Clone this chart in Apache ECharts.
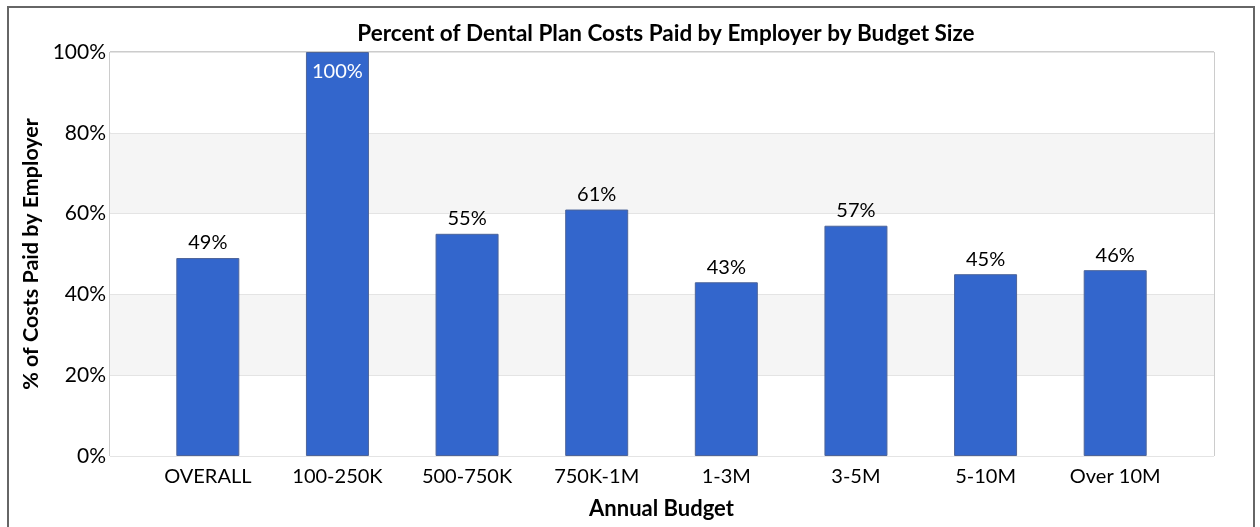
<!DOCTYPE html>
<html>
<head>
<meta charset="utf-8">
<script src="https://cdn.jsdelivr.net/npm/echarts@6/dist/echarts.min.js"></script>
<style>
html,body{margin:0;padding:0;background:#fff;}
#chart{width:1260px;height:527px;}
</style>
</head>
<body>
<div id="chart"></div>
<script>
const categories = ['OVERALL','100-250K','500-750K','750K-1M','1-3M','3-5M','5-10M','Over 10M'];
const values = [49, 100, 55, 61, 43, 57, 45, 46];
const yTicks = [0, 20, 40, 60, 80, 100];

const FONT = 'Lato';
const chart = echarts.init(document.getElementById('chart'));

const barData = values.map(v => {
  const inside = v >= 95;
  return {
    value: v,
    label: inside ? {position: 'insideTop', color: '#fff', distance: 10} : {position: 'top', color: '#000', distance: 5}
  };
});

chart.setOption({
  animation: false,
  backgroundColor: '#fff',
  textStyle: {fontFamily: FONT},
  title: {
    text: 'Percent of Dental Plan Costs Paid by Employer by Budget Size',
    left: 661, top: 17, textAlign: 'center',
    textStyle: {fontFamily: FONT, fontSize: 22.5, fontWeight: 'bold', color: '#000'}
  },
  graphic: [{
    type: 'rect', shape: {x: 8, y: 7, width: 1246, height: 540},
    style: {fill: 'none', stroke: '#666', lineWidth: 2}, z: 100, silent: true
  }],
  grid: [
    {left: 110, right: 46, top: 52, bottom: 71, show: true, borderColor: '#999', borderWidth: 1, backgroundColor: 'transparent'},
    {left: 143, right: 80, top: 52, bottom: 71}
  ],
  xAxis: [
    {gridIndex: 0, type: 'category', data: categories, show: false},
    {
      gridIndex: 1, type: 'category', data: categories,
      axisLine: {show: false}, axisTick: {show: false},
      axisLabel: {fontFamily: FONT, fontSize: 20, color: '#000', margin: 11},
      name: 'Annual Budget', nameLocation: 'middle', nameGap: 42,
      nameTextStyle: {fontFamily: FONT, fontSize: 22, fontWeight: 'bold', color: '#000'}
    }
  ],
  yAxis: [
    {
      gridIndex: 0, type: 'value', min: yTicks[0], max: yTicks[yTicks.length - 1], interval: 20,
      axisLine: {show: false}, axisTick: {show: false},
      axisLabel: {fontFamily: FONT, fontSize: 21, color: '#000', margin: 4, formatter: v => v + '%'},
      splitLine: {show: true, lineStyle: {color: '#e4e4e4', width: 1}},
      splitArea: {show: true, areaStyle: {color: ['#ffffff', '#f5f5f5']}},
      name: '% of Costs Paid by Employer', nameLocation: 'middle', nameGap: 63, nameRotate: 90,
      nameTextStyle: {fontFamily: FONT, fontSize: 21.5, fontWeight: 'bold', color: '#000'}
    },
    {gridIndex: 1, type: 'value', min: 0, max: 100, interval: 20, show: false, splitLine: {show: false}}
  ],
  series: [{
    type: 'bar', xAxisIndex: 1, yAxisIndex: 1,
    data: barData,
    barWidth: 63,
    itemStyle: {color: '#3366cc', borderColor: '#4d6499', borderWidth: 1},
    label: {show: true, fontFamily: FONT, fontSize: 20, formatter: p => p.value + '%'}
  }]
});
</script>
</body>
</html>
